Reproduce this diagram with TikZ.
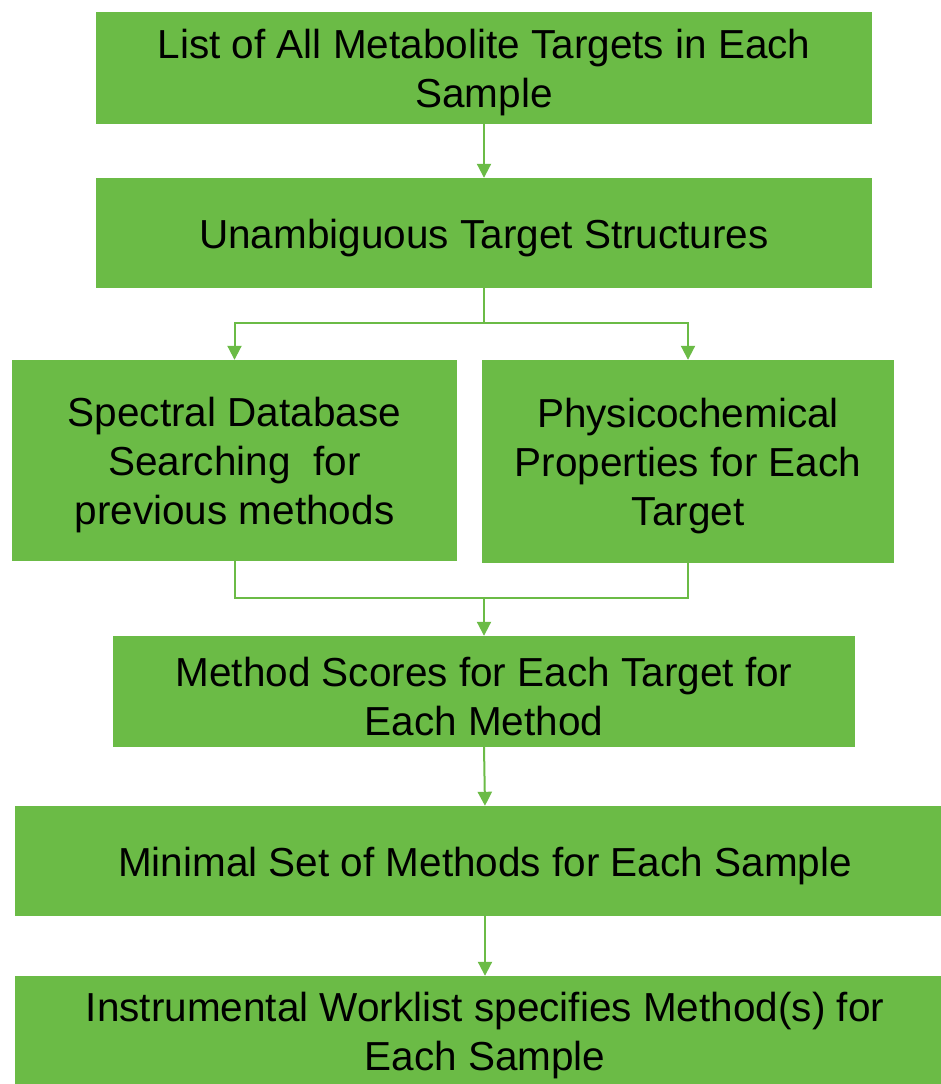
\documentclass[tikz,border=0pt]{standalone}
\usepackage{fontspec}
\setmainfont{Liberation Sans}
\usetikzlibrary{arrows.meta}

\begin{document}
\begin{tikzpicture}[x=1pt,y=-1pt,
    stagebox/.style={fill=stagegreen,draw=none,inner sep=0pt},
    caption/.style={align=center,inner sep=0pt,yshift=-5pt,
        font=\fontsize{40.5}{49}\selectfont},
    link/.style={draw=stagegreen,line width=2pt,-{Triangle[width=14pt,length=14pt]}},
    plainlink/.style={draw=stagegreen,line width=2pt}]
            \definecolor{stagegreen}{RGB}{107,187,70}
            \useasboundingbox (0,0) rectangle (940,1084);
            \node[stagebox,minimum width=776,minimum height=112,
                label={[caption]center:{List of All Metabolite Targets in Each\\Sample}}] (targets) at (484,68) {};
            \node[stagebox,minimum width=776,minimum height=110,
                label={[caption]center:{Unambiguous Target Structures}}] (structs) at (484,233) {};
            \node[stagebox,minimum width=445,minimum height=201,
                label={[caption]center:{Spectral Database\\Searching\ \ for\\previous methods}}] (spectral) at (234.5,460.5) {};
            \node[stagebox,minimum width=412,minimum height=203,
                label={[caption]center:{Physicochemical\\Properties for Each\\Target}}] (physchem) at (688,461.5) {};
            \node[stagebox,minimum width=742,minimum height=111,
                label={[caption]center:{Method Scores for Each Target for\\Each Method}}] (scores) at (484,691.5) {};
            \node[stagebox,minimum width=940,minimum height=110,
                label={[caption]center:{Minimal Set of Methods for Each Sample}}] (minset) at (485,861) {};
            \node[stagebox,minimum width=940,minimum height=110,
                label={[caption]center:{Instrumental Worklist specifies Method(s) for\\Each Sample}}] (worklist) at (485,1031) {};
            \coordinate (split) at (484,323);
            \coordinate (merge) at (484,598);
            \draw[link] (targets.south) -- (structs.north);
            \draw[plainlink] (structs.south) -- (split);
            \draw[link] (split) -| (spectral.north);
            \draw[link] (split) -| (physchem.north);
            \draw[plainlink] (spectral.south) |- (merge);
            \draw[plainlink] (physchem.south) |- (merge);
            \draw[link] (merge) -- (scores.north);
            \draw[link] (scores.south) -- (minset.north);
            \draw[link] (minset.south) -- (worklist.north);
        \end{tikzpicture}
\end{document}
